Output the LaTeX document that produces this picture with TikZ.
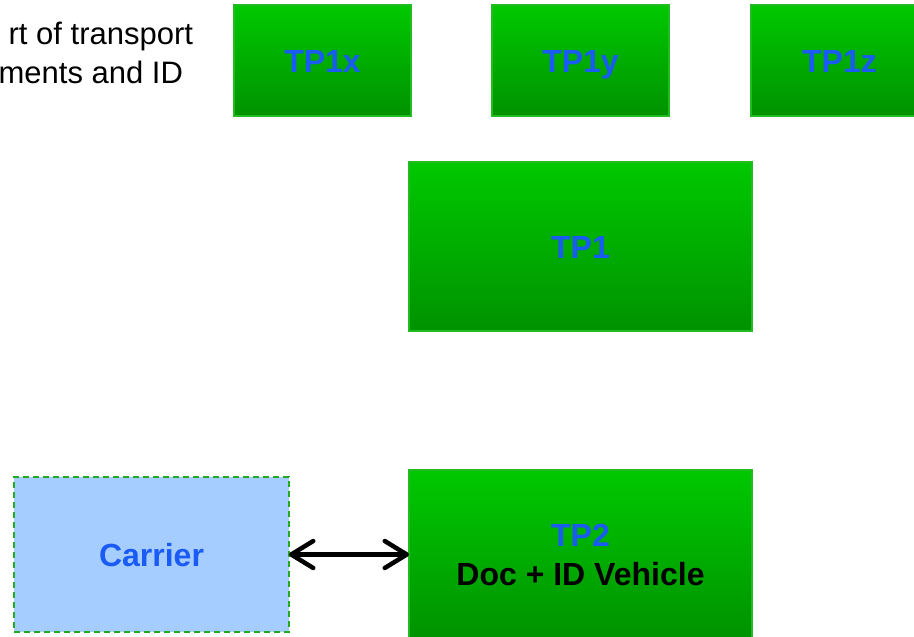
\documentclass[tikz,border=0pt]{standalone}
\usepackage{fontspec}
\setmainfont{Liberation Sans}
\usetikzlibrary{arrows.meta}
\definecolor{gtop}{HTML}{00C800}
\definecolor{gbot}{HTML}{009200}
\definecolor{gborder}{HTML}{22BB22}
\definecolor{labelblue}{HTML}{1A5AF5}
\definecolor{carrierfill}{HTML}{A5CDFF}
\definecolor{dashgreen}{HTML}{22AA22}
\tikzset{
  tpbox/.style={rectangle, top color=gtop, bottom color=gbot, draw=gborder, line width=1.5pt,
    inner sep=0pt, outer sep=0pt, align=center,
    font=\fontsize{32}{39}\selectfont\bfseries, text=labelblue},
  oneline/.style={text depth=0pt, text height=23pt},
  carrierbox/.style={rectangle, fill=carrierfill, draw=dashgreen, line width=2pt,
    dash pattern=on 6pt off 4pt, inner sep=0pt, outer sep=0pt,
    font=\fontsize{32}{39}\selectfont\bfseries, text=labelblue},
  plaintext/.style={inner sep=0pt, outer sep=0pt, font=\fontsize{31}{38}\selectfont},
  dblarrow/.style={line width=4.5pt, line cap=round, line join=round,
    {Straight Barb[length=22pt,width=27pt,line cap=round,line join=round]}-{Straight Barb[length=22pt,width=27pt,line cap=round,line join=round]}}
}
\begin{document}
\begin{tikzpicture}[x=1pt,y=-1pt]
\useasboundingbox (0,0) rectangle (914,637);
\clip (0,0) rectangle (914,637);
\node[plaintext, anchor=base east] (t1) at (193,45) {rt of transport};
\node[plaintext, anchor=base east] (t2) at (183,83) {ments and ID};
\node[tpbox, oneline, minimum width=177pt, minimum height=111pt] (tp1x) at (322.5,60.5) {TP1x};
\node[tpbox, oneline, minimum width=177pt, minimum height=111pt] (tp1y) at (580.5,60.5) {TP1y};
\node[tpbox, oneline, minimum width=177pt, minimum height=111pt] (tp1z) at (839.5,60.5) {TP1z};
\node[tpbox, oneline, minimum width=343pt, minimum height=169pt] (tp1) at (580.5,246.5) {TP1};
\node[tpbox, minimum width=343pt, minimum height=169pt] (tp2) at (580.5,554.5) {TP2\\\textcolor{black}{Doc + ID Vehicle}};
\node[carrierbox, oneline, minimum width=275pt, minimum height=155pt] (carrier) at (151.5,554.5) {Carrier};
\draw[dblarrow] (carrier.east) -- (tp2.west);
\end{tikzpicture}
\end{document}
